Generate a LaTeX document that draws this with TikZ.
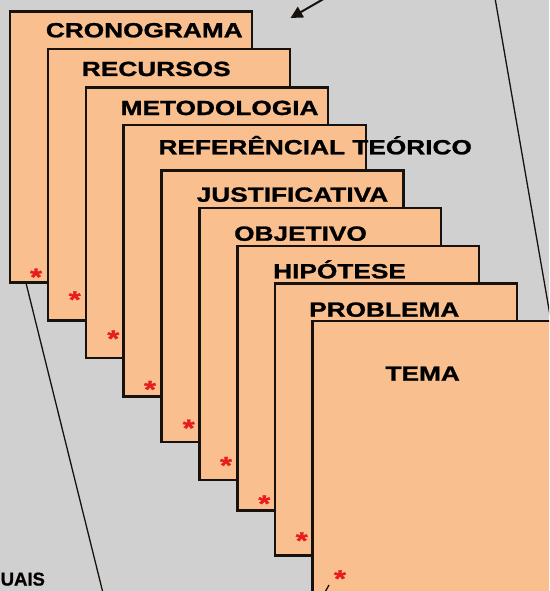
\documentclass[tikz,border=0pt]{standalone}
\usepackage{fontspec}
\setmainfont{Liberation Sans}[BoldFeatures={FakeBold=0.8}]
\newfontfamily\fichafont{Liberation Sans}[FakeStretch=1.28, BoldFeatures={FakeBold=1.2}]
\usepackage{tikz}
\usepackage{xcolor}
\usetikzlibrary{arrows.meta}
\definecolor{fundo}{RGB}{208,208,208}
\definecolor{papel}{RGB}{249,191,143}
\definecolor{borda}{RGB}{24,18,14}
\definecolor{marca}{RGB}{232,28,28}
\tikzset{
  folha/.style={fill=papel, draw=borda, line width=2.6pt},
  titulo/.style={anchor=base west, inner sep=0pt, font=\fichafont\bfseries\fontsize{20.5}{24}\selectfont},
  asterisco/.style={anchor=base, inner sep=0pt, text=marca, font=\fichafont\bfseries\fontsize{24}{24}\selectfont},
  traco/.style={draw=borda, line width=1.3pt}
}

\begin{document}
\begin{tikzpicture}[x=1pt, y=-1pt]
            \fill[color=fundo] (0,0) rectangle (549,591);
            \useasboundingbox (0,0) rectangle (549,591);
            \clip (0,0) rectangle (549,591);
            \coordinate (cantoesq) at (26,283);
            \coordinate (baseesq) at (103.5,595);
            \coordinate (topodir) at (495,-2);
            \coordinate (fimdir) at (551,321);
            \draw[traco] (cantoesq) -- (baseesq); % linha da esquerda
            \draw[traco] (topodir) -- (fimdir); % linha da direita
            \foreach \l/\t/\r/\b/\texto/\tx/\ty/\ax/\ay [count=\n] in {
                    10/11.3/252/282.7/CRONOGRAMA/45.7/37.3/36/271.7,
                    48/49/290/320.4/RECURSOS/81.7/76/74.7/294.3,
                    86/87.4/328/358/METODOLOGIA/120.5/115/113.3/333.3,
                    123.5/125/366/396.5/REFERÊNCIAL TEÓRICO/158.3/154.3/150/384,
                    161.7/170.4/403.6/441.8/JUSTIFICATIVA/196.5/201.7/188.7/422.7,
                    199.5/208/441/480/OBJETIVO/234/240.7/226/460,
                    237.3/245.8/479/510.7/HIPÓTESE/273/278.3/264.3/498.3,
                    275/283.4/517/555.2/PROBLEMA/309/316.7/301.7/535.3,
                    312.6/321/570/610/TEMA/385.3/380.7/340/573.3}{
                    \filldraw[folha] (\l,\t) rectangle (\r,\b);
                    \node[titulo] (titulo\n) at (\tx,\ty) {\texto};
                    \node[asterisco] (ast\n) at (\ax,\ay+13.5) {*};
                }
            \coordinate (cauda) at (327,-3);
            \coordinate (ponta) at (290.5,18);
            \draw[-{Triangle[length=12pt,width=12pt]}, line width=2pt, borda] (cauda) -- (ponta); % seta
            \coordinate (risco1) at (324.5,593);
            \coordinate (risco2) at (329,585);
            \draw[traco] (risco1) -- (risco2);
            \node[anchor=base west, inner sep=0pt, font=\bfseries\fontsize{18.5}{20}\selectfont] (uais) at (0.5,585.5) {UAIS};
        \end{tikzpicture}
\end{document}
